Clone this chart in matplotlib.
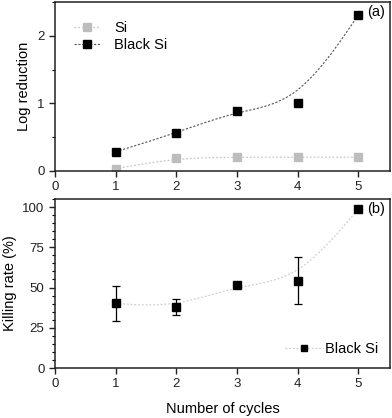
import numpy as np
import matplotlib
matplotlib.use("Agg")
import matplotlib.pyplot as plt
from matplotlib.ticker import MultipleLocator
from matplotlib.lines import Line2D

plt.rcParams["font.family"] = ["Liberation Sans", "DejaVu Sans"]

# Data
cycles = [1, 2, 3, 4, 5]
si_log = [0.03, 0.19, 0.2, 0.2, 0.2]
bsi_log = [0.28, 0.56, 0.89, 1.0, 2.31]
bsi_kill = [40.1, 37.7, 51.5, 54.2, 99.0]
bsi_kill_err = [11.0, 5.0, 1.5, 14.7, 0.8]


def bspline(x, y, n=40):
    # uniform cubic B-spline, data used as control points (end points tripled)
    px = np.r_[[x[0]] * 2, x, [x[-1]] * 2].astype(float)
    py = np.r_[[y[0]] * 2, y, [y[-1]] * 2].astype(float)
    M = np.array([[-1, 3, -3, 1], [3, -6, 3, 0], [-3, 0, 3, 0], [1, 4, 1, 0]]) / 6
    t = np.linspace(0, 1, n)
    T = np.vstack([t**3, t**2, t, np.ones_like(t)]).T
    xs, ys = [], []
    for i in range(len(px) - 3):
        xs.append(T @ M @ px[i:i + 4])
        ys.append(T @ M @ py[i:i + 4])
    return np.concatenate(xs), np.concatenate(ys)


fig = plt.figure(figsize=(3.92, 4.18), dpi=100)
ax1 = fig.add_axes([0.140, 0.5916, 0.855, 0.4034])
ax2 = fig.add_axes([0.140, 0.1196, 0.855, 0.4044])

# (a) log reduction
sx, sy = bspline(cycles, si_log)
bx, by = bspline(cycles, bsi_log)
ax1.plot(sx, sy, color="#c8c8c8", ls=(0, (1.5, 1.5)), lw=0.9)
ax1.plot(bx, by, color="#555555", ls=(0, (2, 1.5)), lw=0.8)
ax1.plot(cycles, si_log, "s", color="#bdbdbd", ms=5.5, ls="none")
ax1.plot(cycles, bsi_log, "s", color="black", ms=5.5, ls="none")

h_si = Line2D([], [], color="#c8c8c8", ls=(0, (1.5, 1.5)), lw=0.9,
              marker="s", mfc="#bdbdbd", mec="#bdbdbd", ms=5.5)
h_bsi = Line2D([], [], color="#555555", ls=(0, (2, 1.5)), lw=0.8,
               marker="s", mfc="black", mec="black", ms=5.5)
ax1.legend([h_si, h_bsi], ["Si", "Black Si"], loc="upper left",
           frameon=False, fontsize=10.5, handlelength=1.8,
           handletextpad=0.95, labelspacing=0.2, borderaxespad=0.9)

ax1.set_xlim(0, 5.52)
ax1.set_ylim(0, 2.5)
ax1.yaxis.set_major_locator(MultipleLocator(1))
ax1.yaxis.set_minor_locator(MultipleLocator(0.5))
ax1.set_ylabel("Log reduction", fontsize=10.5)
ax1.text(0.985, 0.985, "(a)", transform=ax1.transAxes, ha="right",
         va="top", fontsize=10.5)

# (b) killing rate
kx, ky = bspline(cycles, bsi_kill)
ax2.plot(kx, ky, color="#cfcfcf", ls=(0, (1.5, 1.5)), lw=0.9)
ax2.errorbar(cycles, bsi_kill, yerr=bsi_kill_err, fmt="s", color="black",
             ms=5.5, elinewidth=0.9, capsize=3, capthick=0.9)
h_b = Line2D([], [], color="#cfcfcf", ls=(0, (1.5, 1.5)), lw=0.9,
             marker="s", mfc="black", mec="black", ms=4.5)
ax2.legend([h_b], ["Black Si"], loc="lower right", frameon=False,
           fontsize=10.5, handlelength=2.6, handletextpad=0.15,
           borderaxespad=0.4)
ax2.set_xlim(0, 5.52)
ax2.set_ylim(0, 105)
ax2.yaxis.set_major_locator(MultipleLocator(25))
ax2.yaxis.set_minor_locator(MultipleLocator(5))
ax2.set_ylabel("Killing rate (%)", fontsize=10.5)
ax2.set_xlabel("Number of cycles", fontsize=10.5, labelpad=8)
ax2.text(0.985, 0.985, "(b)", transform=ax2.transAxes, ha="right",
         va="top", fontsize=10.5)

for ax in (ax1, ax2):
    ax.xaxis.set_major_locator(MultipleLocator(1))
    ax.tick_params(which="major", direction="out", length=4, width=1,
                   labelsize=9.5, colors="#222222")
    ax.tick_params(which="minor", direction="out", length=2.5, width=0.8)
    for s in ax.spines.values():
        s.set_linewidth(1.1)
        s.set_color("#222222")

fig.savefig("out.png", dpi=100)
